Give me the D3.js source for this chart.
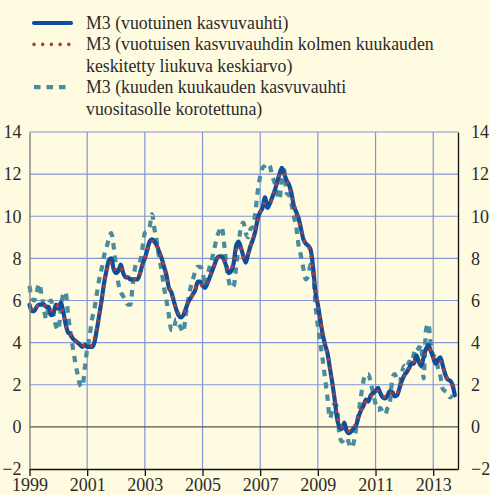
<!DOCTYPE html>
<html>
<head>
<meta charset="utf-8">
<script src="https://cdn.jsdelivr.net/npm/d3@7"></script>
<style>
  html, body { margin: 0; padding: 0; background: #fffbe0; }
  svg { display: block; }
  svg text { font-family: "Liberation Serif", "Times New Roman", "DejaVu Serif", serif; }
</style>
</head>
<body>
<svg width="490" height="495"></svg>
<script>
// monthly values, first value = Jan 1999
const m3Annual = [
  5.8, 5.5, 5.5, 5.7, 5.8, 5.8, 5.8, 5.7, 5.7, 5.3, 5.4, 5.8,
  5.6, 5.9, 5.5, 4.9, 4.5, 4.4, 4.2, 4.1, 4.0, 3.9, 3.8, 3.9,
  3.8, 3.8, 3.8, 4.0, 4.6, 5.3, 6.0, 6.8, 7.4, 7.9, 8.0, 7.5,
  7.3, 7.4, 7.7, 7.3, 7.1, 7.1, 7.0, 7.0, 7.0, 7.0, 7.3, 7.7,
  8.0, 8.4, 8.8, 8.9, 8.8, 8.6, 8.3, 8.0, 7.6, 7.2, 6.6, 6.4,
  6.0, 5.6, 5.3, 5.2, 5.3, 5.6, 5.9, 6.1, 6.3, 6.5, 6.9, 6.9,
  6.7, 6.6, 6.8, 7.1, 7.4, 7.7, 8.0, 8.1, 8.1, 7.9, 7.6, 7.3,
  7.4, 7.8, 8.6, 8.8, 8.5, 8.1, 7.8, 8.2, 8.6, 8.9, 9.3, 9.9,
  10.2, 10.4, 10.9, 10.4, 10.6, 10.9, 11.2, 11.6, 12.0, 12.3, 12.0, 11.7,
  11.5, 11.1, 10.5, 10.2, 9.9, 9.4, 8.9, 8.7, 8.6, 8.4, 7.6, 6.4,
  5.8, 5.1, 4.4, 3.9, 3.5, 2.8, 2.1, 1.3, 0.4, 0.0, -0.1, 0.2,
  -0.2, -0.3, -0.2, -0.05, 0.1, 0.5, 0.8, 1.0, 1.3, 1.2, 1.5, 1.6,
  1.7, 1.85, 1.6, 1.4, 1.35, 1.5, 1.7, 1.65, 1.45, 1.5, 1.85, 2.2,
  2.45, 2.6, 2.8, 3.0, 3.0, 3.4, 3.1, 2.9, 3.3, 3.7, 3.9, 3.6,
  3.3, 3.0, 3.2, 3.3, 2.9, 2.5, 2.25, 2.2, 2.0, 1.5
]
// centred 3-month moving average, first value = Feb 1999
const m3Centered = [
  5.6, 5.5, 5.7, 5.8, 5.8, 5.8, 5.7, 5.6, 5.5, 5.5, 5.6,
  5.8, 5.7, 5.4, 4.9, 4.6, 4.4, 4.2, 4.1, 4.0, 3.9, 3.9, 3.8,
  3.8, 3.8, 3.9, 4.2, 4.7, 5.3, 6.0, 6.7, 7.4, 7.8, 7.8, 7.6,
  7.4, 7.5, 7.5, 7.4, 7.2, 7.1, 7.0, 7.0, 7.0, 7.1, 7.3, 7.7,
  8.0, 8.4, 8.7, 8.8, 8.8, 8.6, 8.3, 8.0, 7.6, 7.1, 6.7, 6.3,
  6.0, 5.6, 5.4, 5.3, 5.4, 5.6, 5.9, 6.1, 6.3, 6.6, 6.8, 6.8,
  6.7, 6.7, 6.8, 7.1, 7.4, 7.7, 7.9, 8.1, 8.0, 7.9, 7.6, 7.4,
  7.5, 7.9, 8.4, 8.6, 8.5, 8.1, 8.0, 8.2, 8.6, 8.9, 9.4, 9.8,
  10.2, 10.5, 10.6, 10.6, 10.6, 10.9, 11.2, 11.6, 12.0, 12.1, 12.0, 11.7,
  11.4, 11.0, 10.6, 10.2, 9.8, 9.4, 9.0, 8.7, 8.6, 8.2, 7.5, 6.6,
  5.8, 5.1, 4.5, 3.9, 3.4, 2.8, 2.1, 1.3, 0.6, 0.1, 0.0, 0.0,
  -0.1, -0.2, -0.2, 0.0, 0.2, 0.5, 0.8, 1.0, 1.2, 1.3, 1.4, 1.6,
  1.7, 1.7, 1.6, 1.5, 1.4, 1.5, 1.6, 1.6, 1.5, 1.6, 1.85, 2.2,
  2.4, 2.6, 2.8, 2.9, 3.1, 3.2, 3.1, 3.1, 3.3, 3.6, 3.7, 3.6,
  3.3, 3.2, 3.2, 3.1, 2.9, 2.5, 2.3, 2.15, 1.9
]
// six-month growth annualised, first value = Jan 1999
const m3SixMonth = [
  6.7, 6.1, 6.0, 6.4, 6.8, 6.3, 5.6, 5.1, 5.8, 6.0, 5.3, 4.8,
  4.6, 5.5, 6.3, 6.4, 5.4, 4.5, 3.8, 3.1, 2.5, 2.0, 1.9, 2.8,
  3.7, 4.3, 5.1, 5.6, 6.3, 7.0, 7.5, 8.1, 8.5, 8.9, 9.2, 8.6,
  7.6, 6.8, 6.4, 6.2, 6.0, 5.8, 5.8, 6.8, 7.6, 7.9, 7.9, 8.5,
  9.2, 9.3, 9.5, 10.1, 9.4, 8.8, 8.0, 7.4, 6.6, 6.0, 5.3, 4.6,
  4.6, 5.1, 4.9, 4.7, 4.5, 5.3, 6.0, 6.6, 7.0, 7.4, 7.6, 7.6,
  7.4, 6.7, 7.2, 7.6, 8.0, 8.5, 9.0, 9.3, 9.5, 8.7, 7.6, 6.9,
  6.6, 6.7, 7.6, 8.6, 9.5, 9.7, 9.2, 9.0, 9.4, 9.5, 10.2, 11.2,
  11.9, 12.3, 12.4, 12.5, 12.4, 11.9, 11.6, 11.1, 10.8, 11.8, 12.2, 11.1,
  11.0, 10.6, 10.0, 9.5, 8.6, 8.1, 7.5, 7.0, 7.2, 7.7, 7.4, 5.8,
  4.8, 4.0, 3.2, 2.3, 1.4, 0.4, 0.8, 1.1, 0.9, -0.4, -0.7, -0.6,
  -0.5, -0.8, -1.0, -0.7, 0.0, 0.7, 1.5, 2.2, 2.5, 2.5, 2.1, 1.6,
  1.1, 0.8, 0.9, 0.7, 0.6, 0.9, 1.2, 2.3, 2.5, 2.2, 2.1, 2.6,
  2.9, 2.8, 3.1, 3.0, 3.5, 3.8, 3.7, 3.9, 2.3, 4.6, 4.9, 3.9,
  3.4, 3.3, 2.8, 2.4, 1.8, 1.7, 1.6, 1.4, 1.5
]
const yTicks = [-2, 0, 2, 4, 6, 8, 10, 12, 14]
const xTicks = [1999, 2001, 2003, 2005, 2007, 2009, 2011, 2013]
const legendLines = [
  { kind: 'solid', text: ['M3 (vuotuinen kasvuvauhti)'] },
  { kind: 'dotted', text: ['M3 (vuotuisen kasvuvauhdin kolmen kuukauden', 'keskitetty liukuva keskiarvo)'] },
  { kind: 'dashed', text: ['M3 (kuuden kuukauden kasvuvauhti', 'vuositasolle korotettuna)'] }
]

const TEXT = '#2b2b2b'
const GRID = '#8396d6'
const FONT = '"Liberation Serif", "Times New Roman", "DejaVu Serif", serif'
const styles = {
  solid: { color: '#0d4f9e', width: 4.2, dash: null, cap: 'round' },
  dotted: { color: '#b23c34', width: 3.6, dash: '0,8.7', cap: 'round' },
  dashed: { color: '#4a8c9f', width: 4.2, dash: '6.5,6', cap: 'butt' }
}

const svg = d3.select('svg')
const x = d3.scaleLinear().domain([1999, 2013.86]).range([29.5, 458])
const y = d3.scaleLinear().domain([-2, 14]).range([469, 132])

//monthly series -> points
const toPoints = (vals, startMonth) => vals.map((v, i) => ({ t: 1999 + (startMonth + i) / 12, v: v }))

// grid
svg.append('g')
  .selectAll('line')
  .data(yTicks.filter(d => d > 0))
  .enter()
  .append('line')
  .attr('x1', x(1999)).attr('x2', x.range()[1])
  .attr('y1', d => y(d)).attr('y2', d => y(d))
  .attr('stroke', GRID).attr('stroke-width', 1.2)

svg.append('g')
  .selectAll('line')
  .data(xTicks.slice(1))
  .enter()
  .append('line')
  .attr('x1', d => x(d)).attr('x2', d => x(d))
  .attr('y1', y(14)).attr('y2', y(-2))
  .attr('stroke', GRID).attr('stroke-width', 1.2)

// zero line
svg.append('line')
  .attr('x1', x(1999)).attr('x2', x.range()[1])
  .attr('y1', y(0)).attr('y2', y(0))
  .attr('stroke', '#555').attr('stroke-width', 1.3)

// series
const line = d3.line().x(d => x(d.t)).y(d => y(d.v)).curve(d3.curveMonotoneX)
const series = [
  { data: toPoints(m3SixMonth, 0), st: styles.dashed },
  { data: toPoints(m3Annual, 0), st: styles.solid },
  { data: toPoints(m3Centered, 1), st: styles.dotted }
]
series.forEach(s => {
  svg.append('path')
    .datum(s.data)
    .attr('d', line)
    .attr('fill', 'none')
    .attr('stroke', s.st.color)
    .attr('stroke-width', s.st.width)
    .attr('stroke-dasharray', s.st.dash)
    .attr('stroke-linecap', s.st.cap)
    .attr('stroke-linejoin', 'round')
})

// axes
const left = svg.append('g').attr('transform', `translate(${x(1999)},0)`)
  .call(d3.axisLeft(y).tickValues(yTicks).tickSize(0).tickPadding(8))
left.select('.domain').attr('stroke', '#8a8a8a').attr('stroke-width', 1.5)

const right = svg.append('g').attr('transform', `translate(${x.range()[1]},0)`)
  .call(d3.axisRight(y).tickValues(yTicks).tickSize(0).tickPadding(13))
right.select('.domain').attr('stroke', '#111').attr('stroke-width', 1.3)

const bottom = svg.append('g').attr('transform', `translate(0,${y(-2)})`)
  .call(d3.axisBottom(x).tickValues(xTicks).tickFormat(d3.format('d')).tickSize(7).tickSizeOuter(0).tickPadding(2))
bottom.select('.domain').attr('stroke', '#111').attr('stroke-width', 1.3)
bottom.selectAll('.tick line').attr('stroke', '#111').attr('stroke-width', 1.3)

;[left, right, bottom].forEach(g => g.attr('font-family', FONT).attr('font-size', 18))
svg.selectAll('.tick text')
  .attr('fill', TEXT)
  .attr('font-family', FONT)
  .attr('font-size', 18)

// legend
let row = 0
legendLines.forEach(item => {
  const st = styles[item.kind]
  const cy = 23 + row * 21.4
  svg.append('line')
    .attr('x1', 34).attr('x2', 71)
    .attr('y1', cy).attr('y2', cy)
    .attr('stroke', st.color)
    .attr('stroke-width', st.width)
    .attr('stroke-dasharray', st.dash)
    .attr('stroke-linecap', st.cap)
  item.text.forEach(t => {
    svg.append('text')
      .attr('x', 86)
      .attr('y', 23 + row * 21.4 + 6)
      .attr('fill', TEXT)
      .attr('font-family', FONT)
      .attr('font-size', 17.8)
      .text(t)
    row++
  })
})
</script>
</body>
</html>
